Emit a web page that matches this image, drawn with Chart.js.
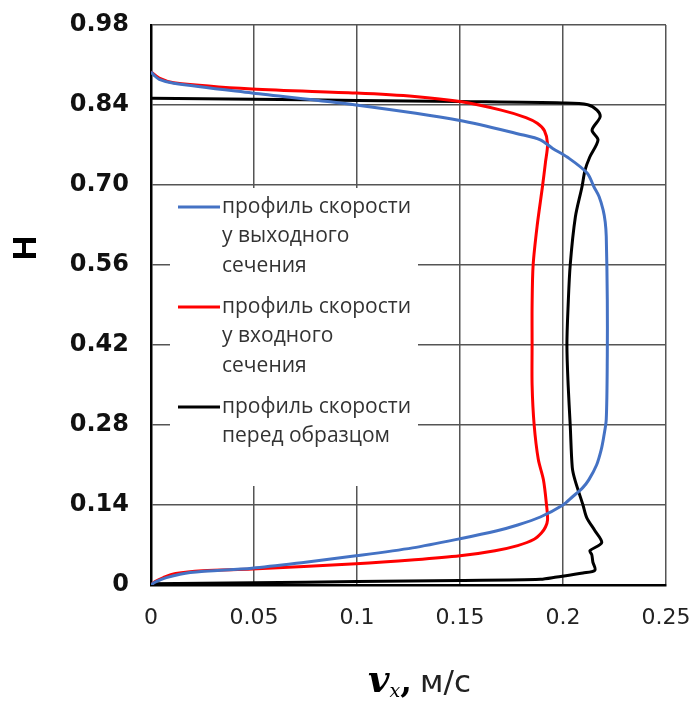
<!DOCTYPE html>
<html>
<head>
<meta charset="utf-8">
<script src="https://cdn.jsdelivr.net/npm/chart.js@4.4.1/dist/chart.umd.min.js"></script>
<style>
  html, body { margin: 0; padding: 0; background: #fff; }
</style>
</head>
<body>
<canvas id="profileChart" width="698" height="706"></canvas>
<script>
// Axis ticks
const xTicks = [0, 0.05, 0.1, 0.15, 0.2, 0.25];
const xTickLabels = ['0', '0.05', '0.1', '0.15', '0.2', '0.25'];
const yTicks = [0, 0.14, 0.28, 0.42, 0.56, 0.70, 0.84, 0.98];
const yTickLabels = ['0', '0.14', '0.28', '0.42', '0.56', '0.70', '0.84', '0.98'];

// Velocity profile at the outlet section (blue)
const outletH = [0, 0.005, 0.013, 0.022, 0.0295, 0.04, 0.051, 0.065, 0.081, 0.095, 0.105, 0.119, 0.14, 0.154, 0.17, 0.184, 0.21, 0.236, 0.26, 0.29, 0.4, 0.5, 0.61, 0.635, 0.656, 0.68, 0.697, 0.721, 0.749, 0.764, 0.779, 0.788, 0.813, 0.84, 0.861, 0.878, 0.885, 0.892, 0.898];
const outletV = [0, 0.002, 0.0075, 0.019, 0.049, 0.075, 0.0995, 0.127, 0.15, 0.168, 0.178, 0.189, 0.2, 0.2045, 0.2095, 0.2125, 0.2163, 0.2185, 0.2198, 0.221, 0.2215, 0.2215, 0.221, 0.2205, 0.2195, 0.2175, 0.215, 0.2117, 0.202, 0.195, 0.189, 0.18, 0.15, 0.0995, 0.049, 0.011, 0.004, 0.0015, 0];

// Velocity profile at the inlet section (red)
const inletH = [0, 0.006, 0.013, 0.02, 0.025, 0.028, 0.037, 0.044, 0.051, 0.06, 0.069, 0.08, 0.091, 0.1015, 0.114, 0.14, 0.184, 0.22, 0.28, 0.35, 0.42, 0.49, 0.56, 0.63, 0.6965, 0.74, 0.772, 0.795, 0.808, 0.818, 0.831, 0.846, 0.855, 0.861, 0.868, 0.879, 0.887, 0.898];
const inletV = [0, 0.002, 0.006, 0.012, 0.025, 0.049, 0.0995, 0.128, 0.15, 0.167, 0.178, 0.186, 0.1895, 0.1915, 0.1925, 0.192, 0.1905, 0.188, 0.186, 0.185, 0.185, 0.185, 0.1855, 0.1875, 0.19, 0.1915, 0.1925, 0.191, 0.1875, 0.182, 0.17, 0.15, 0.128, 0.0995, 0.049, 0.011, 0.004, 0];

// Velocity profile in front of the sample (black)
const sampleH = [0.002, 0.004, 0.006, 0.008, 0.01, 0.014, 0.021, 0.026, 0.04, 0.0525, 0.06, 0.074, 0.095, 0.118, 0.14, 0.184, 0.206, 0.28, 0.35, 0.42, 0.49, 0.56, 0.644, 0.6965, 0.726, 0.749, 0.779, 0.796, 0.819, 0.831, 0.8405, 0.8435, 0.846, 0.848, 0.85, 0.852];
const sampleV = [0, 0.05, 0.1, 0.15, 0.189, 0.197, 0.2097, 0.2155, 0.2145, 0.214, 0.2131, 0.2188, 0.2155, 0.2115, 0.2097, 0.2058, 0.2045, 0.2035, 0.2025, 0.2019, 0.2025, 0.2035, 0.206, 0.2092, 0.2107, 0.213, 0.217, 0.2141, 0.218, 0.2165, 0.212, 0.2, 0.15, 0.1, 0.05, 0];

const legendLines = [
    ['профиль скорости', 'у выходного', 'сечения'],
    ['профиль скорости', 'у входного', 'сечения'],
    ['профиль скорости', 'перед образцом']
];
const seriesColors = ['#4472C4', '#FF0000', '#000000'];

function toPoints(vs, hs) {
    return vs.map((v, i) => ({ x: v, y: hs[i] }));
}

// Custom legend box and axis titles
const decorPlugin = {
    id: 'decor',
    beforeDatasetsDraw(chart) {
        const ctx = chart.ctx;
        const a = chart.chartArea;
        ctx.save();
        ctx.fillStyle = '#fff';
        ctx.fillRect(a.left + 19, 188, 248, 298);
        const firstRows = [207, 307, 407];
        ctx.font = '21px "Open Sans"';
        ctx.textBaseline = 'middle';
        legendLines.forEach((lines, k) => {
            const y0 = firstRows[k];
            ctx.strokeStyle = seriesColors[k];
            ctx.lineWidth = 3;
            ctx.beginPath();
            ctx.moveTo(a.left + 27, y0);
            ctx.lineTo(a.left + 69, y0);
            ctx.stroke();
            ctx.fillStyle = '#333';
            lines.forEach((t, j) => ctx.fillText(t, a.left + 71, y0 + j * 29.5));
        });
        ctx.restore();
    },
    afterDraw(chart) {
        const ctx = chart.ctx;
        ctx.save();
        // y axis title
        ctx.translate(27, 248);
        ctx.rotate(-Math.PI / 2);
        ctx.font = 'bold 34px "Liberation Sans"';
        ctx.fillStyle = '#000';
        ctx.textAlign = 'center';
        ctx.textBaseline = 'middle';
        ctx.fillText('H', 0, 0);
        ctx.restore();

        // x axis title: v_x, м/с
        ctx.save();
        ctx.fillStyle = '#000';
        ctx.textBaseline = 'alphabetic';
        let x = 368;
        const base = 692;
        ctx.font = 'bold italic 37px "DejaVu Serif"';
        ctx.fillText('v', x, base);
        x += ctx.measureText('v').width;
        ctx.font = 'italic 19px "DejaVu Serif"';
        ctx.fillText('x', x, base + 5);
        x += ctx.measureText('x').width;
        ctx.font = 'bold 34px "DejaVu Serif"';
        ctx.fillText(',', x, base);
        x += ctx.measureText(',').width + 8;
        ctx.font = '31px "DejaVu Sans"';
        ctx.fillStyle = '#222';
        ctx.fillText('м/с', x, base);
        ctx.restore();
    }
};

const ctx = document.getElementById('profileChart').getContext('2d');
const lineStyle = { showLine: true, pointRadius: 0, borderWidth: 3, tension: 0.3, fill: false };

new Chart(ctx, {
    type: 'scatter',
    data: {
        datasets: [
            { label: 'профиль скорости у выходного сечения', data: toPoints(outletV, outletH), borderColor: seriesColors[0], ...lineStyle },
            { label: 'профиль скорости у входного сечения', data: toPoints(inletV, inletH), borderColor: seriesColors[1], ...lineStyle },
            { label: 'профиль скорости перед образцом', data: toPoints(sampleV, sampleH), borderColor: seriesColors[2], ...lineStyle }
        ]
    },
    options: {
        responsive: false,
        animation: false,
        layout: { padding: { left: 0, top: 25, right: 32, bottom: 0 } },
        plugins: {
            legend: { display: false },
            tooltip: { enabled: false }
        },
        scales: {
            x: {
                type: 'linear',
                min: 0,
                max: 0.25,
                afterBuildTicks: s => { s.ticks = xTicks.map(v => ({ value: v })); },
                afterFit: s => { s.height = 121; s.paddingLeft = 0; s.paddingRight = 0; },
                ticks: {
                    callback: (v, i) => xTickLabels[i],
                    font: { family: 'DejaVu Sans', size: 22 },
                    color: '#222',
                    padding: 20,
                    maxRotation: 0,
                    autoSkip: false
                },
                grid: { color: '#555', lineWidth: 1.5, drawTicks: false },
                border: { color: '#000', width: 2.5 }
            },
            y: {
                type: 'linear',
                min: 0,
                max: 0.98,
                afterBuildTicks: s => { s.ticks = yTicks.map(v => ({ value: v })); },
                afterFit: s => { s.width = 151; s.paddingTop = 0; s.paddingBottom = 0; },
                ticks: {
                    callback: (v, i) => yTickLabels[i],
                    font: { family: 'DejaVu Sans', size: 24, weight: 'bold' },
                    color: '#111',
                    padding: 22,
                    autoSkip: false
                },
                grid: { color: '#555', lineWidth: 1.5, drawTicks: false },
                border: { color: '#000', width: 2.5 }
            }
        }
    },
    plugins: [decorPlugin]
});
</script>
</body>
</html>
